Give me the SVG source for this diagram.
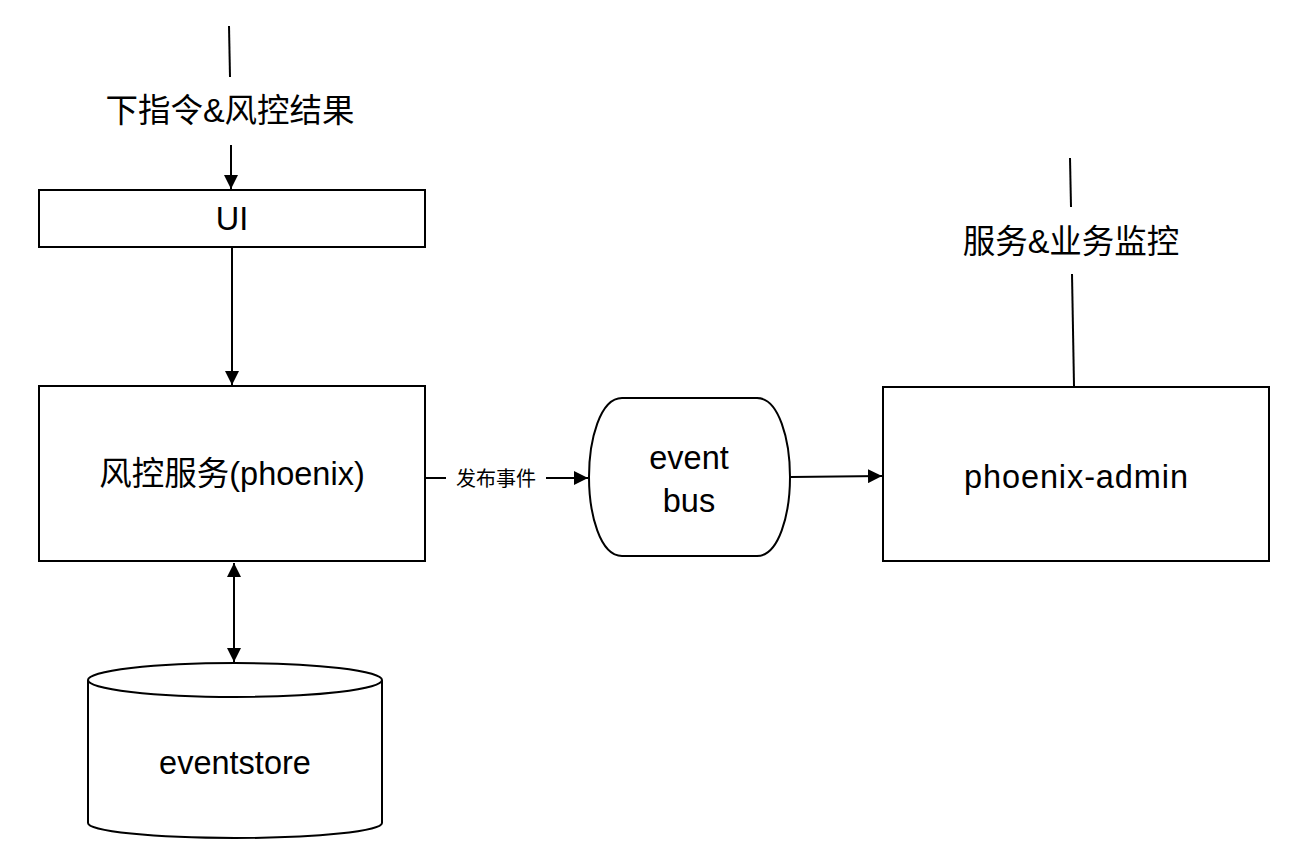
<svg xmlns="http://www.w3.org/2000/svg" width="1312" height="868" viewBox="0 0 1312 868">
<defs>
<style>
.box{fill:#fff;stroke:#000;stroke-width:2}
.ln{fill:none;stroke:#000;stroke-width:2}
.t{font-family:"Liberation Sans","Noto Sans CJK SC",sans-serif;font-size:32.5px;fill:#000;text-anchor:middle}
.s{font-family:"Noto Sans CJK SC","Liberation Sans",sans-serif;font-size:20px;fill:#000;text-anchor:middle}
</style>
<marker id="ah" viewBox="0 0 14 14" refX="14" refY="7" markerWidth="14" markerHeight="14" markerUnits="userSpaceOnUse" orient="auto-start-reverse">
<path d="M0,0 L14,7 L0,14 Z" fill="#000"/>
</marker>
</defs>
<rect width="1312" height="868" fill="#fff"/>
<g id="connectors">
<line class="ln" x1="229" y1="26" x2="230" y2="77"/>
<line class="ln" x1="231" y1="145" x2="231" y2="189" marker-end="url(#ah)"/>
<line class="ln" x1="232" y1="248" x2="232" y2="385" marker-end="url(#ah)"/>
<line class="ln" x1="426" y1="478" x2="446" y2="478"/>
<line class="ln" x1="546" y1="478" x2="588" y2="478" marker-end="url(#ah)"/>
<line class="ln" x1="791" y1="477" x2="882" y2="476" marker-end="url(#ah)"/>
<line class="ln" x1="234" y1="563" x2="234" y2="662" marker-start="url(#ah)" marker-end="url(#ah)"/>
<line class="ln" x1="1070" y1="158" x2="1071" y2="207"/>
<line class="ln" x1="1072" y1="274" x2="1074" y2="386"/>
<text class="t" x="230" y="122">下指令&amp;风控结果</text>
<text class="t" x="1071" y="253">服务&amp;业务监控</text>
<text class="s" x="496" y="486">发布事件</text>
</g>
<g id="ui">
<rect class="box" x="39" y="190" width="386" height="57"/>
<text class="t" x="232" y="230">UI</text>
</g>
<g id="phoenix">
<rect class="box" x="39" y="386" width="386" height="175"/>
<text class="t" x="232" y="485">风控服务(phoenix)</text>
</g>
<g id="eventbus">
<path class="box" d="M622,398 L757,398 C779,398 790,440 790,477 C790,514 779,556 757,556 L622,556 C600,556 589,514 589,477 C589,440 600,398 622,398 Z"/>
<text class="t" x="689" y="469">event</text>
<text class="t" x="689" y="512">bus</text>
</g>
<g id="admin">
<rect class="box" x="883" y="387" width="386" height="174"/>
<text class="t" x="1076" y="488" textLength="224" lengthAdjust="spacing">phoenix-admin</text>
</g>
<g id="eventstore">
<path class="box" d="M88,680 L88,823 A147,15 0 0 0 382,823 L382,680 A147,17 0 0 0 88,680 Z"/>
<path class="ln" d="M88,680 A147,17 0 0 0 382,680"/>
<text class="t" x="235" y="774">eventstore</text>
</g>
</svg>
